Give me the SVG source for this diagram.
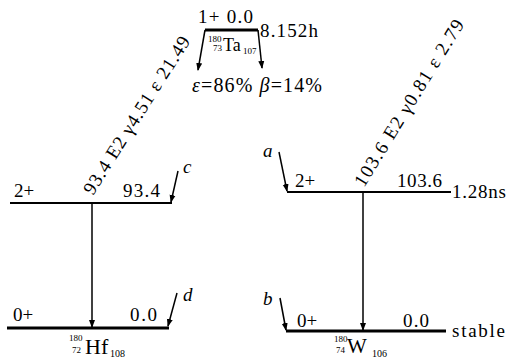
<svg xmlns="http://www.w3.org/2000/svg" width="506" height="362" viewBox="0 0 506 362">
<defs>
<marker id="ah" markerWidth="8" markerHeight="8" refX="7" refY="4" orient="auto" markerUnits="userSpaceOnUse">
<path d="M0,1 L8,4 L0,7 Z" fill="#000"/>
</marker>
<style>
text{font-family:"Liberation Serif","Times New Roman",serif;fill:#000}
.t{font-size:19px}
.s{font-size:9px}
.lv{stroke:#000;stroke-width:2;fill:none}
.gl{stroke:#000;stroke-width:3.2;fill:none}
.ar{stroke:#000;stroke-width:1.5;fill:none;marker-end:url(#ah)}
.it{font-style:italic}
</style>
</defs>
<rect width="506" height="362" fill="#fff"/>

<g id="parent">
<text class="t" x="198" y="23" textLength="55" lengthAdjust="spacing">1+ 0.0</text>
<line class="gl" x1="205" y1="30" x2="258" y2="30"/>
<text class="t" x="260" y="37" textLength="58" lengthAdjust="spacing">8.152h</text>
<text class="s" x="208" y="42">180</text>
<text class="s" x="213" y="51">73</text>
<text class="t" x="223" y="51" style="font-size:18px">Ta</text>
<text class="s" x="243" y="54">107</text>
<text x="192" y="92" style="font-size:20px" textLength="130" lengthAdjust="spacing"><tspan class="it">ε</tspan>=86% <tspan class="it">β</tspan>=14%</text>
</g>

<g id="hf-2plus">
<line class="lv" x1="10" y1="203" x2="172" y2="203"/>
<text class="t" x="14" y="197">2+</text>
<text class="t" x="123" y="197" textLength="37" lengthAdjust="spacing">93.4</text>
<text class="t it" x="183" y="173">c</text>
</g>

<g id="hf-0plus">
<line class="gl" x1="7" y1="328" x2="169" y2="328"/>
<text class="t" x="13" y="321">0+</text>
<text class="t" x="130" y="321" textLength="27" lengthAdjust="spacing">0.0</text>
<text class="t it" x="183" y="301">d</text>
<text class="s" x="69" y="341">180</text>
<text class="s" x="72" y="353">72</text>
<text class="t" x="85" y="354" style="font-size:22px">Hf</text>
<text class="s" x="110" y="357" style="font-size:10px">108</text>
</g>

<g id="w-2plus">
<line class="lv" x1="287" y1="192" x2="451" y2="192"/>
<text class="t" x="295" y="187">2+</text>
<text class="t" x="397" y="187" textLength="45" lengthAdjust="spacing">103.6</text>
<text class="t" x="452" y="198" textLength="54" lengthAdjust="spacing">1.28ns</text>
<text class="t it" x="263" y="157">a</text>
</g>

<g id="w-0plus">
<line class="gl" x1="286" y1="331" x2="446" y2="331"/>
<text class="t" x="297" y="327">0+</text>
<text class="t" x="403" y="327" textLength="26" lengthAdjust="spacing">0.0</text>
<text class="t" x="452" y="337" textLength="53" lengthAdjust="spacing">stable</text>
<text class="t it" x="263" y="305">b</text>
<text class="s" x="334" y="342">180</text>
<text class="s" x="336" y="353">74</text>
<text class="t" x="347" y="353" style="font-size:21px">W</text>
<text class="s" x="372" y="357" style="font-size:10px">106</text>
</g>

<g id="connectors">
<line class="ar" x1="205" y1="30" x2="198" y2="70"/>
<line class="ar" x1="258" y1="30" x2="262" y2="68"/>
<line class="ar" x1="92" y1="203" x2="92" y2="327"/>
<line class="ar" x1="363" y1="192" x2="363" y2="330"/>
<line class="ar" x1="178" y1="171" x2="171" y2="202"/>
<line class="ar" x1="177" y1="293" x2="168" y2="326"/>
<line class="ar" x1="279" y1="152" x2="287" y2="191"/>
<line class="ar" x1="280" y1="298" x2="286" y2="330"/>
<text class="t" transform="translate(93,196) rotate(-57.7)" textLength="183" lengthAdjust="spacing">93.4 E2 γ4.51 ε 21.49</text>
<text class="t" transform="translate(364,188) rotate(-58.4)" textLength="192" lengthAdjust="spacing">103.6 E2 γ0.81 ε 2.79</text>
</g>
</svg>
